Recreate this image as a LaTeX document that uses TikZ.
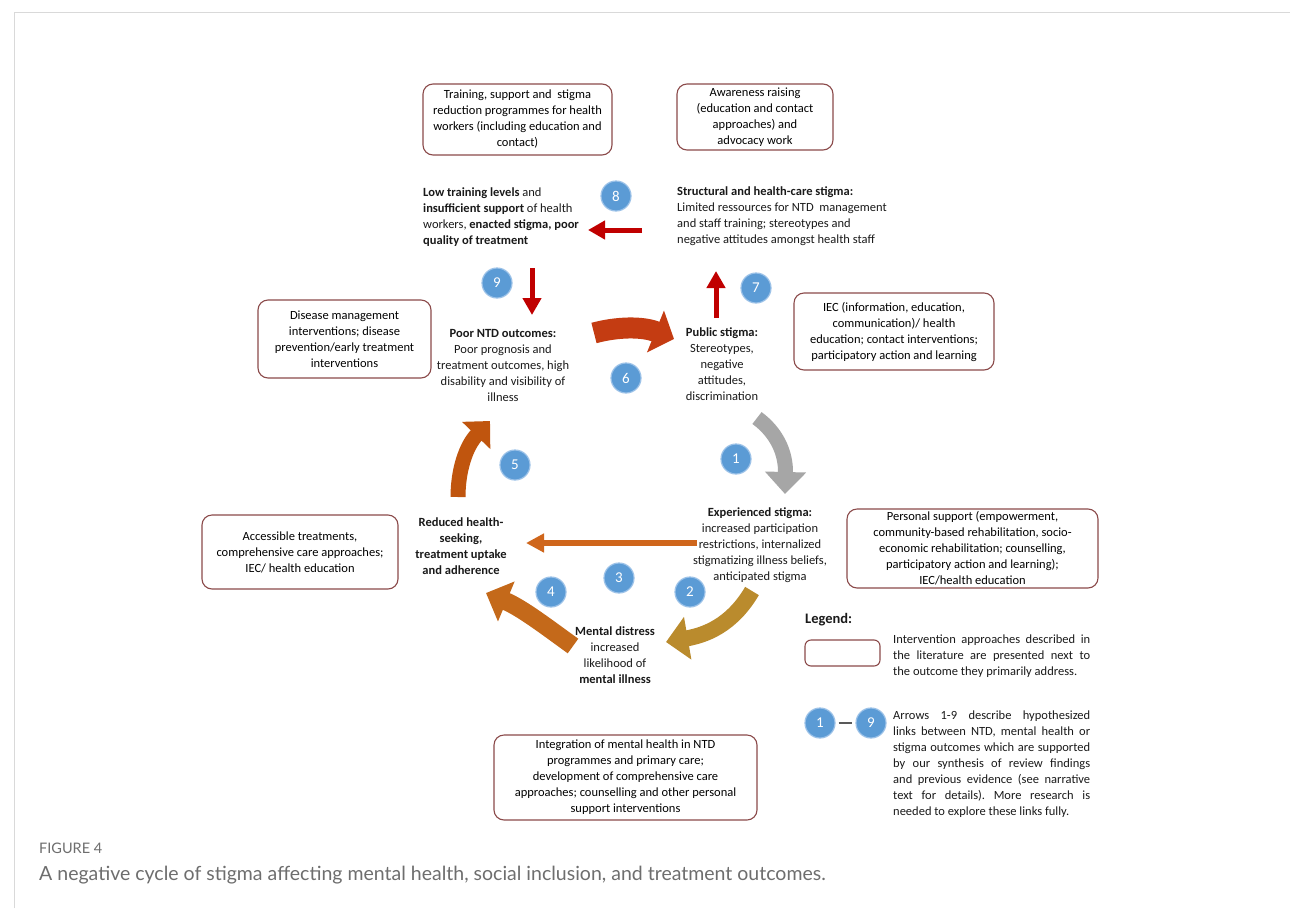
\documentclass[tikz,border=0pt]{standalone}
\usepackage{fontspec}
\setmainfont{Carlito}
\newfontfamily\capfont{Lato}
\usetikzlibrary{arrows.meta}
\frenchspacing
\definecolor{boxc}{HTML}{8B4A4A}
\definecolor{numc}{HTML}{5B9BD5}
\definecolor{numedge}{HTML}{9CC2E8}
\definecolor{redc}{HTML}{C00000}
\definecolor{sixc}{HTML}{C43C12}
\definecolor{onec}{HTML}{A6A6A6}
\definecolor{fivec}{HTML}{C0550E}
\definecolor{threec}{HTML}{CF661C}
\definecolor{twoc}{HTML}{BA8B2D}
\definecolor{fourc}{HTML}{C4691A}
\definecolor{framec}{HTML}{D9D9D9}
\definecolor{capc}{HTML}{6E6E6E}
\definecolor{txtc}{HTML}{1A1A1A}
\tikzset{
  ibox/.style={draw=boxc, line width=1.1pt, rounded corners=10pt, fill=white, align=center, inner sep=0pt},
  num/.style={circle, fill=numc, draw=numedge, line width=1.2pt, minimum size=30pt, inner sep=0pt, text=white, font=\fontsize{15}{15}\selectfont},
  lbl/.style={align=center, inner sep=0pt, text=txtc},
  redarr/.style={draw=redc, line width=5pt, -{Triangle[length=17pt,width=18pt]}},
}
\begin{document}
\begin{tikzpicture}[x=1pt,y=-1pt, every node/.style={font=\fontsize{12.5}{16}\selectfont}]
\useasboundingbox (0,0) rectangle (1290,908);
\fill[white] (0,0) rectangle (1290,908);
\draw[framec, line width=1pt] (14,908) -- (14,12) -- (1290,12);

% intervention boxes
\node[ibox, minimum width=189pt, minimum height=71pt] (b1) at (517.5,119.5) {Training, support and\ \ stigma\\reduction programmes for health\\workers (including education and\\contact)};
\node[ibox, minimum width=156pt, minimum height=66pt] (b2) at (755,117) {Awareness raising\\(education and contact\\approaches) and\\advocacy work};
\node[ibox, minimum width=173pt, minimum height=78pt] (b3) at (344.5,339) {Disease management\\interventions; disease\\prevention/early treatment\\interventions};
\node[ibox, minimum width=200pt, minimum height=77pt] (b4) at (894,331.5) {IEC (information, education,\\communication)/ health\\education; contact interventions;\\participatory action and learning};
\node[ibox, minimum width=196pt, minimum height=74pt] (b5) at (300,552) {Accessible treatments,\\comprehensive care approaches;\\IEC/ health education};
\node[ibox, minimum width=251pt, minimum height=79pt] (b6) at (972.5,548.5) {Personal support (empowerment,\\community-based rehabilitation, socio-\\economic rehabilitation; counselling,\\participatory action and learning);\\IEC/health education};
\node[ibox, minimum width=263pt, minimum height=85pt] (b7) at (625.5,777.5) {Integration of mental health in NTD\\programmes and primary care;\\development of comprehensive care\\approaches; counselling and other personal\\support interventions};

% outcome texts
\node[lbl, align=left, anchor=west] (low) at (423,217.5) {\textbf{Low training levels} and\\\textbf{insufficient support} of health\\workers, \textbf{enacted stigma, poor}\\\textbf{quality of treatment}};
\node[lbl, align=left, anchor=west] (struct) at (677,216) {\textbf{Structural and health-care stigma:}\\Limited ressources for NTD\ \ management\\and staff training; stereotypes and\\negative attitudes amongst health staff};
\node[lbl] (poor) at (503,365) {\textbf{Poor NTD outcomes:}\\Poor prognosis and\\treatment outcomes, high\\disability and visibility of\\illness};
\node[lbl] (pub) at (722,364) {\textbf{Public stigma:}\\Stereotypes,\\negative\\attitudes,\\discrimination};
\node[lbl] (exp) at (760,545.5) {\textbf{Experienced stigma:}\\increased participation\\restrictions, internalized\\stigmatizing illness beliefs,\\anticipated stigma};
\node[lbl] (red) at (461,546) {\textbf{Reduced health-}\\\textbf{seeking,}\\\textbf{treatment uptake}\\\textbf{and adherence}};
\node[lbl] (ment) at (615,655) {\textbf{Mental distress}\\increased\\likelihood of\\\textbf{mental illness}};

% arrow end points
\coordinate (a8s) at (642,230); \coordinate (a8e) at (588,230);
\coordinate (a9s) at (532,268); \coordinate (a9e) at (532,315);
\coordinate (a7s) at (716,318); \coordinate (a7e) at (716,271);
\coordinate (a6s) at (594,333); \coordinate (a6e) at (674,339);
\coordinate (a1s) at (757,418); \coordinate (a1e) at (785,494);
\coordinate (a3s) at (697,543); \coordinate (a3e) at (526,543);
\coordinate (a2s) at (752,591); \coordinate (a2e) at (666,642);
\coordinate (a4s) at (573,646); \coordinate (a4e) at (486,593);
\coordinate (a5s) at (458,497); \coordinate (a5e) at (490,421);

\draw[redarr] (a8s) -- (a8e);
\draw[redarr] (a9s) -- (a9e);
\draw[redarr] (a7s) -- (a7e);
\draw[draw=sixc, line width=21pt, -{Triangle[length=20pt,width=44pt]}] (a6s) .. controls (616,327) and (642,326) .. (a6e);
\draw[draw=onec, line width=15pt, -{Triangle[length=22pt,width=40pt]}] (a1s) .. controls (776,432) and (786,452) .. (a1e);
\draw[draw=threec, line width=6pt, -{Triangle[length=18pt,width=18pt]}] (a3s) -- (a3e);
\draw[draw=twoc, line width=16pt, -{Triangle[length=22pt,width=42pt]}] (a2s) .. controls (735,620) and (712,634) .. (a2e);
\draw[draw=fourc, line width=18pt, -{Triangle[length=22pt,width=42pt]}] (a4s) .. controls (548,628) and (522,608) .. (a4e);
\draw[draw=fivec, line width=15pt, -{Triangle[length=20pt,width=38pt]}] (a5s) .. controls (458,470) and (466,446) .. (a5e);

% numbers
\node[num] (n8) at (616,196) {8};
\node[num] (n9) at (497,283) {9};
\node[num] (n7) at (756,288) {7};
\node[num] (n6) at (626,378) {6};
\node[num] (n1) at (736,459) {1};
\node[num] (n5) at (515,465) {5};
\node[num] (n4) at (551,592) {4};
\node[num] (n3) at (619,578) {3};
\node[num] (n2) at (690,592) {2};

% legend
\node[lbl, anchor=west, font=\bfseries\fontsize{14.5}{16}\selectfont] (leg) at (805,620) {Legend:};
\node[ibox, rounded corners=6pt, minimum width=75pt, minimum height=26pt] (lbox) at (842.5,653) {};
\node[lbl, align=left, anchor=north west] (ltxt1) at (893,635) {\makebox[197pt][s]{Intervention approaches described in}\\\makebox[197pt][s]{the literature are presented next to}\\the outcome they primarily address.};
\node[num] (l1) at (820,723) {1};
\node[num] (l9) at (871,723) {9};
\draw[draw=black!65, line width=1.3pt, shorten <=3pt, shorten >=3pt] (l1) -- (l9);
\node[lbl, align=left, anchor=north west] (ltxt2) at (893,711) {\makebox[197pt][s]{Arrows 1-9 describe hypothesized}\\\makebox[197pt][s]{links between NTD, mental health or}\\\makebox[197pt][s]{stigma outcomes which are supported}\\\makebox[197pt][s]{by our synthesis of review findings}\\\makebox[197pt][s]{and previous evidence (see narrative}\\\makebox[197pt][s]{text for details). More research is}\\needed to explore these links fully.};

% caption
\node[anchor=west, inner sep=0pt, text=capc, font=\capfont\fontsize{14.5}{14.5}\selectfont] (fig) at (39,848) {FIGURE 4};
\node[anchor=west, inner sep=0pt, text=capc, font=\capfont\fontsize{19.5}{19.5}\selectfont] (cap) at (39,875) {A negative cycle of stigma affecting mental health, social inclusion, and treatment outcomes.};
\end{tikzpicture}
\end{document}
